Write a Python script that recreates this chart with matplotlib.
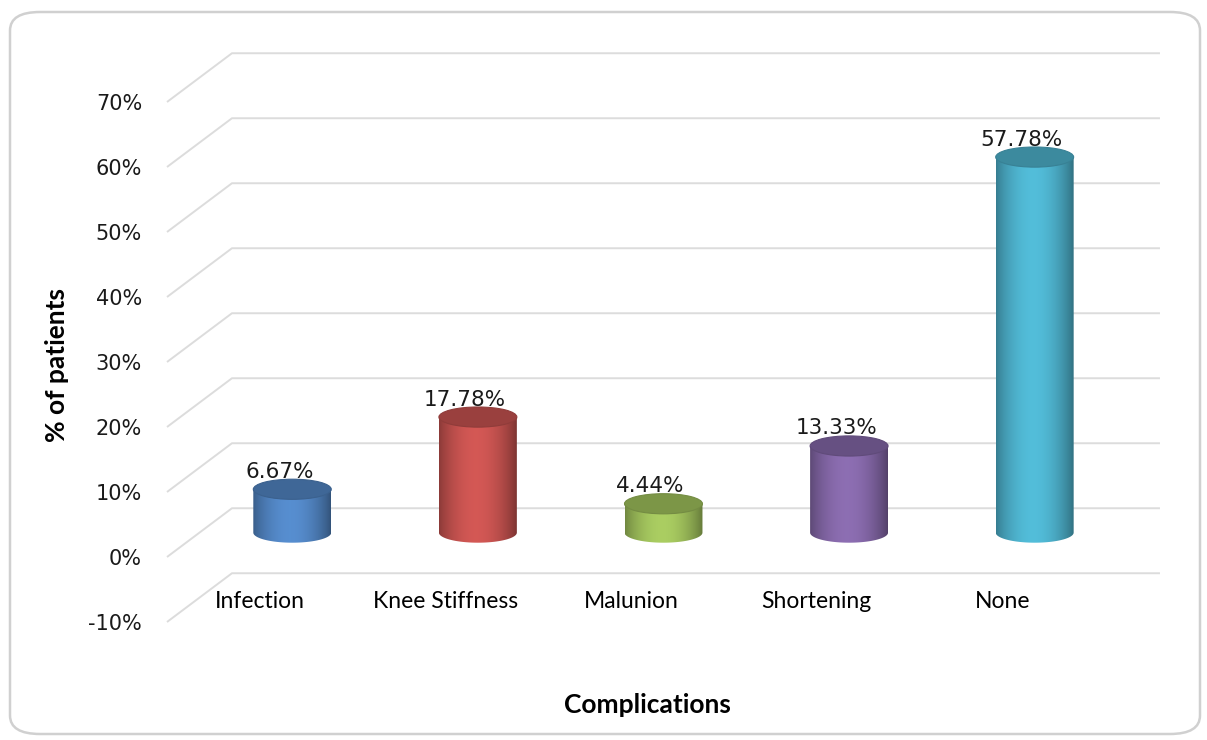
import matplotlib.pyplot as plt
import numpy as np
from matplotlib.patches import Ellipse, FancyBboxPatch, PathPatch
from matplotlib.path import Path
from matplotlib.colors import to_rgb

categories = ['Infection', 'Knee Stiffness', 'Malunion', 'Shortening', 'None']
values = [6.67, 17.78, 4.44, 13.33, 57.78]
colors = ['#4F81BD', '#C0504D', '#9BBB59', '#8064A2', '#4BACC6']
yticks = [-10, 0, 10, 20, 30, 40, 50, 60, 70]

# depth of the fake 3d box, in data units
DX = 0.35
DY = 7.5
BAR_W = 0.42
ELL_H = 3.1
GRID = '#DCDCDC'

fig = plt.figure(figsize=(12.07, 7.40), dpi=100)
ax = fig.add_axes([167 / 1207, 118 / 740, 928 / 1207, 520 / 740])

# rounded frame around the whole chart
frame = FancyBboxPatch((10 / 1207, 6 / 740), 1190 / 1207, 722 / 740,
                       boxstyle='round,pad=0,rounding_size=0.025',
                       transform=fig.transFigure, facecolor='none',
                       edgecolor='#D0D0D0', linewidth=1.8)
fig.patches.append(frame)

x0, x1 = -0.5, len(categories) - 0.5

# gridlines: front-left corner -> back wall -> right
for t in yticks:
    ax.plot([x0, x0 + DX, x1 + DX], [t, t + DY, t + DY], color=GRID,
            lw=1.4, clip_on=False, zorder=1, solid_capstyle='butt')


def shade(c, n=200):
    c = np.array(to_rgb(c))
    u = np.linspace(0, 1, n)
    # dark edges, light towards the centre-left
    f = 0.72 + 0.42 * np.sin(np.pi * u) ** 0.8 - 0.08 * u
    rgb = np.clip(c[None, :] * f[:, None], 0, 1)
    return rgb[None, :, :]


t = np.linspace(np.pi, 2 * np.pi, 60)
for i, (v, c) in enumerate(zip(values, colors)):
    cx = i + 0.5 * DX
    yb = 0 + 0.5 * DY
    yt = v + 0.5 * DY
    # body outline: bottom half ellipse + sides up to the top
    xs = list(cx + BAR_W / 2 * np.cos(t)) + [cx + BAR_W / 2, cx - BAR_W / 2]
    ys = list(yb + ELL_H / 2 * np.sin(t)) + [yt, yt]
    verts = list(zip(xs, ys)) + [(xs[0], ys[0])]
    codes = [Path.MOVETO] + [Path.LINETO] * (len(verts) - 2) + [Path.CLOSEPOLY]
    body = PathPatch(Path(verts, codes), facecolor='none', edgecolor='none')
    ax.add_patch(body)
    im = ax.imshow(shade(c), extent=(cx - BAR_W / 2, cx + BAR_W / 2,
                                     yb - ELL_H, yt + ELL_H),
                   aspect='auto', zorder=3, interpolation='bilinear')
    im.set_clip_path(body)
    top_c = np.array(to_rgb(c)) * 0.8
    ax.add_patch(Ellipse((cx, yt), BAR_W, ELL_H, facecolor=top_c,
                         edgecolor=np.array(to_rgb(c)) * 0.75, lw=0.8,
                         zorder=4))
    ax.text(cx - 0.07, yt + 2.7, f'{v:.2f}%', ha='center', va='center',
            fontsize=15.5, family='DejaVu Sans', color='#1a1a1a', zorder=5)

for i, name in enumerate(categories):
    ax.text(i, -6.8, name, ha='center', va='center', fontsize=16.5,
            family='Lato', color='black')

ax.set_xlim(x0, x1)
ax.set_ylim(-10, 70)
ax.set_xticks([])
ax.set_yticks(yticks)
ax.set_yticklabels([f'{v}%' for v in yticks], family='DejaVu Sans',
                   fontsize=15, color='#1a1a1a')
ax.tick_params(axis='y', length=0, pad=18)
for s in ax.spines.values():
    s.set_visible(False)
ax.patch.set_alpha(0)

fig.text(57 / 1207, 1 - 365 / 740, '% of patients', rotation=90,
         ha='center', va='center', fontsize=19, fontweight='bold',
         family='Lato')
fig.text(647 / 1207, 1 - 705 / 740, 'Complications', ha='center',
         va='center', fontsize=19, fontweight='bold', family='Lato')

fig.savefig('out.png', dpi=100)
